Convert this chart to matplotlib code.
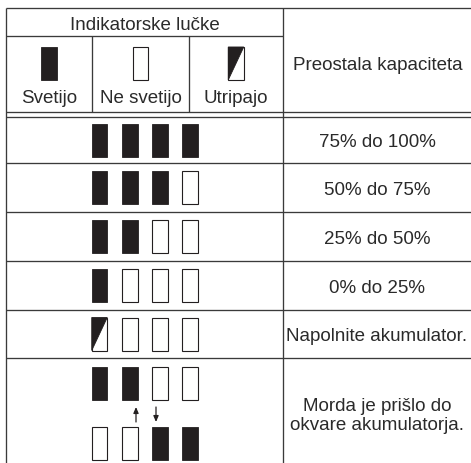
import matplotlib
matplotlib.use("Agg")
import matplotlib.pyplot as plt
from matplotlib.patches import Rectangle, Polygon

plt.rcParams['font.family'] = ['Liberation Sans', 'DejaVu Sans']

# ---- data ----
header_title = "Indikatorske lučke"
legend_labels = ["Svetijo", "Ne svetijo", "Utripajo"]
legend_states = ["on", "off", "blink"]
capacity_header = "Preostala kapaciteta"
row_labels = ["75% do 100%", "50% do 75%", "25% do 50%", "0% do 25%",
              "Napolnite akumulator.", "Morda je prišlo do\nokvare akumulatorja."]
row_states = [
    ["on", "on", "on", "on"],
    ["on", "on", "on", "off"],
    ["on", "on", "off", "off"],
    ["on", "off", "off", "off"],
    ["blink", "off", "off", "off"],
]
fault_states_top = ["on", "on", "off", "off"]
fault_states_bottom = ["off", "off", "on", "on"]

# ---- layout ----
W, H = 471, 464
fig = plt.figure(figsize=(W / 100, H / 100), dpi=100)
ax = fig.add_axes([0, 0, 1, 1])
ax.set_xlim(0, W)
ax.set_ylim(H, 0)
ax.axis('off')

LC = '#3a3a3a'
DARK = '#231f20'
TXT = '#2a2a2a'
LW = 0.95
FS = 13.5

x_left, x_div, x_right = 6, 283, 475
col_divs = [92, 189]
y_top, y_sub, y_dbl1, y_dbl2 = 9, 37, 113, 118
row_lines = [164, 213, 262, 311, 359]
y_bottom = 470

def hline(y, x0, x1):
    ax.plot([x0, x1], [y, y], color=LC, lw=LW, solid_capstyle='butt')

def vline(x, y0, y1):
    ax.plot([x, x], [y0, y1], color=LC, lw=LW, solid_capstyle='butt')

hline(y_top, x_left, x_right)
hline(y_sub, x_left, x_div)
hline(y_dbl1, x_left, x_right)
hline(y_dbl2, x_left, x_right)
for y in row_lines:
    hline(y, x_left, x_right)
vline(x_left, y_top, y_bottom)
vline(x_div, y_top, y_bottom)
for x in col_divs:
    vline(x, y_sub, y_dbl1)

LAMP_W, LAMP_H = 15.5, 33

def lamp(xc, yc, state):
    x0, y0 = xc - LAMP_W / 2, yc - LAMP_H / 2
    if state == "on":
        ax.add_patch(Rectangle((x0, y0), LAMP_W, LAMP_H, facecolor=DARK,
                               edgecolor=DARK, lw=0.6))
    elif state == "off":
        ax.add_patch(Rectangle((x0, y0), LAMP_W, LAMP_H, facecolor='white',
                               edgecolor=DARK, lw=0.8))
    else:
        ax.add_patch(Rectangle((x0, y0), LAMP_W, LAMP_H, facecolor='white',
                               edgecolor=DARK, lw=0.8))
        ax.add_patch(Polygon([(x0, y0), (x0 + LAMP_W, y0), (x0, y0 + LAMP_H)],
                             closed=True, facecolor=DARK, edgecolor=DARK, lw=0.6))

# header
ax.text((x_left + x_div) / 2, 30, header_title, ha='center', va='baseline',
        fontsize=FS, color=TXT)
legend_centers = [49, 140.5, 236]
for xc, lab, st in zip(legend_centers, legend_labels, legend_states):
    lamp(xc, 64.5, st)
    ax.text(xc, 103, lab, ha='center', va='baseline', fontsize=FS, color=TXT)
ax.text(378, 70, capacity_header, ha='center', va='baseline', fontsize=FS, color=TXT)

# rows
lamp_x = [99.5, 130, 160, 190]
row_bounds = [y_dbl2] + row_lines
for i, states in enumerate(row_states):
    yc = (row_bounds[i] + row_bounds[i + 1]) / 2
    for xc, st in zip(lamp_x, states):
        lamp(xc, yc, st)
    ax.text(377, yc + 6.5, row_labels[i], ha='center', va='baseline',
            fontsize=FS, color=TXT)

# fault row
for xc, st in zip(lamp_x, fault_states_top):
    lamp(xc, 384.5, st)
for xc, st in zip(lamp_x, fault_states_bottom):
    lamp(xc, 444.5, st)
ax.annotate('', xy=(136, 408), xytext=(136, 423),
            arrowprops=dict(arrowstyle='-|>,head_length=0.35,head_width=0.15',
                            color=DARK, lw=0.9, shrinkA=0, shrinkB=0))
ax.annotate('', xy=(156, 423), xytext=(156, 408),
            arrowprops=dict(arrowstyle='-|>,head_length=0.35,head_width=0.15',
                            color=DARK, lw=0.9, shrinkA=0, shrinkB=0))
ax.text(377, 416, row_labels[5], ha='center', va='center', fontsize=FS,
        color=TXT, linespacing=1.15, multialignment='center')

fig.savefig('out.png', dpi=100, facecolor='white')
